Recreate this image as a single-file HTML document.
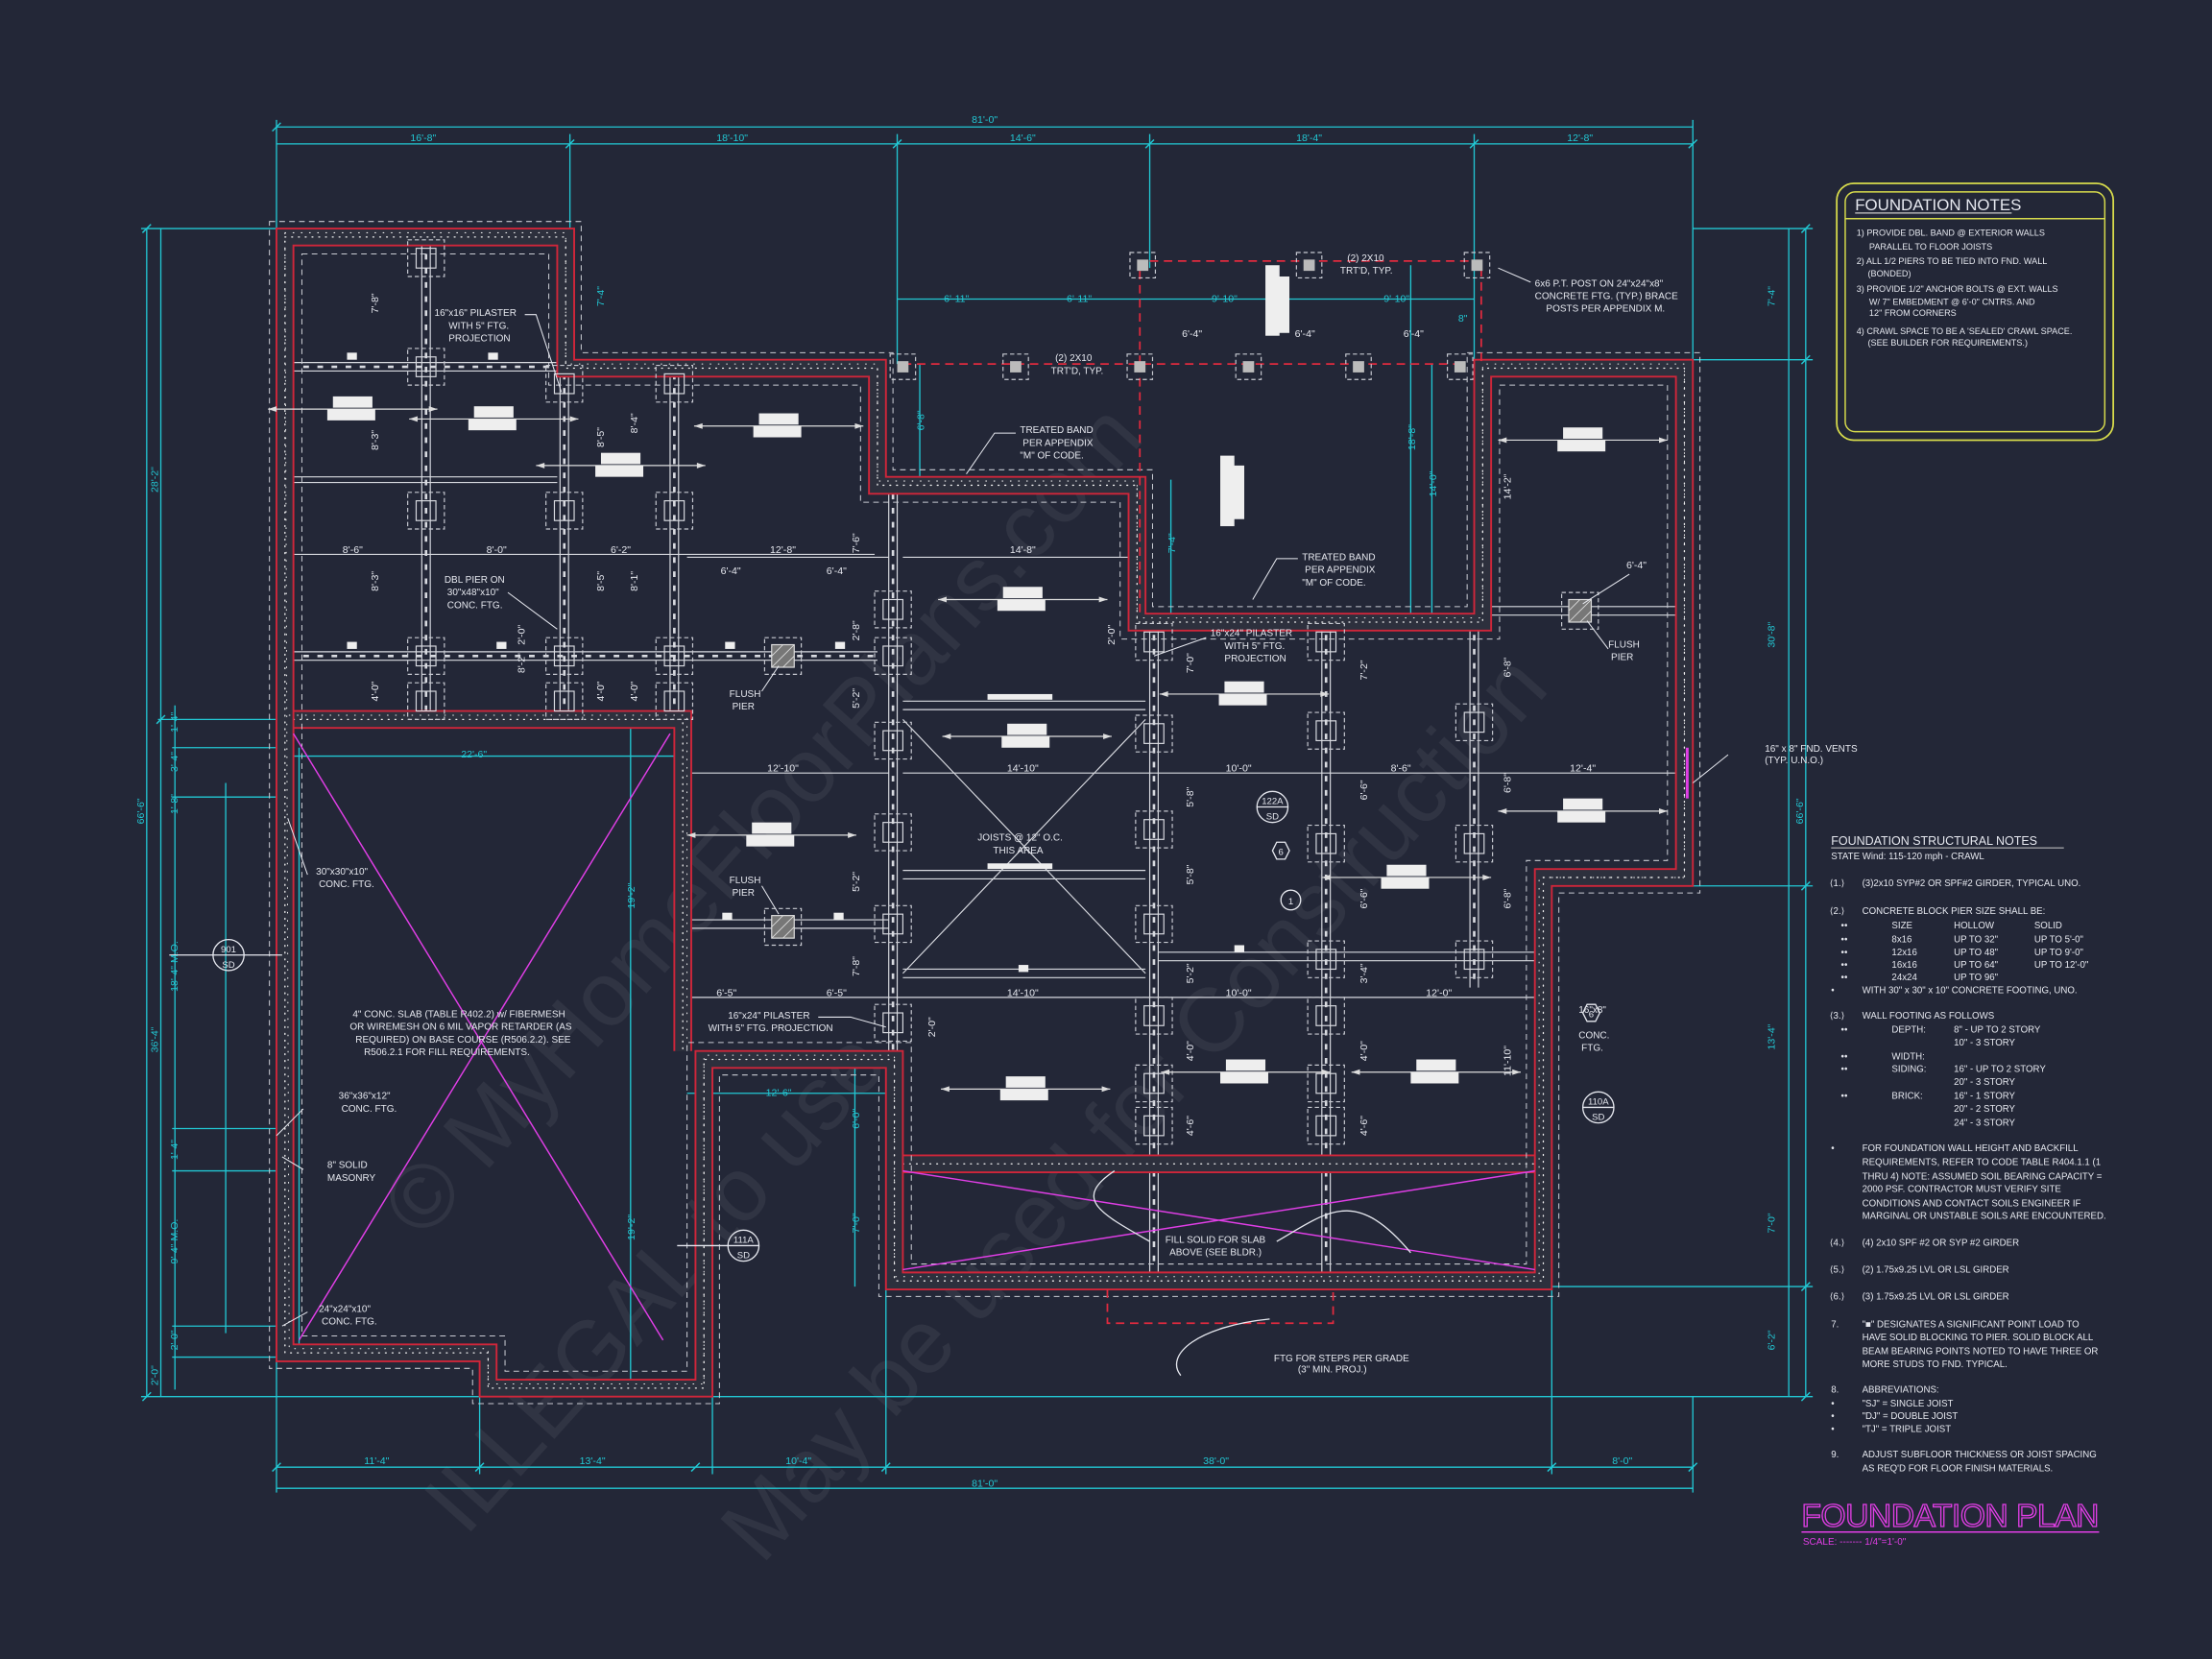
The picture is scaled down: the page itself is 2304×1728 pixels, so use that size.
<!DOCTYPE html>
<html><head><meta charset="utf-8"><style>
html,body{margin:0;padding:0;background:#232737;}
svg{display:block}
text{font-family:"Liberation Sans",sans-serif;fill:#e6e8ef;}
.c{fill:#22c8d4}
.m{fill:#e23ee6}
</style></head><body>
<svg width="2304" height="1728" viewBox="0 0 1568 1176" xmlns="http://www.w3.org/2000/svg">
<defs>
<g id="p"><rect x="-13" y="-13" width="26" height="26" fill="none" stroke="#c8cad2" stroke-width="0.8" stroke-dasharray="3 2"/><rect x="-7" y="-7" width="14" height="14" fill="none" stroke="#d8dae0" stroke-width="0.8"/></g>
<g id="fp"><rect x="-13" y="-13" width="26" height="26" fill="none" stroke="#c8cad2" stroke-width="0.8" stroke-dasharray="3 2"/><rect x="-8" y="-8" width="16" height="16" fill="#777" stroke="#ddd" stroke-width="0.8"/><path d="M-8,0 L0,-8 M-8,8 L8,-8 M0,8 L8,0" stroke="#ddd" stroke-width="0.6"/></g>
<g id="sp"><rect x="-9" y="-9" width="18" height="18" fill="none" stroke="#c8cad2" stroke-width="0.8" stroke-dasharray="3 2"/><rect x="-4" y="-4" width="8" height="8" fill="#bbb"/></g>
<g id="j"><line x1="-60" y1="0" x2="60" y2="0" stroke="#ddd" stroke-width="0.8"/><path d="M-60,0 l6,-2 v4z M60,0 l-6,-2 v4z" fill="#ddd"/><rect x="-14" y="-9" width="28" height="8" fill="#eee"/><rect x="-18" y="0" width="34" height="8" fill="#eee"/></g>
</defs>
<rect width="1568" height="1176" fill="#232737"/>

<!-- watermark -->
<g fill="#ffffff" opacity="0.06" font-family="Liberation Serif" font-size="64">
<text x="300" y="880" transform="rotate(-48 300 880)" style="fill:#fff">© MyHomeFloorPlans.com</text>
<text x="330" y="1090" transform="rotate(-48 330 1090)" style="fill:#fff">ILLEGAL to use</text>
<text x="540" y="1110" transform="rotate(-48 540 1110)" style="fill:#fff">May be used for Construction</text>
</g>

<!-- dimension lines cyan -->
<g stroke="#22c8d4" stroke-width="0.9" fill="none">
<line x1="196" y1="90" x2="1200" y2="90"/>
<line x1="196" y1="102" x2="1200" y2="102"/>
<path d="M196,85V162 M404,95V258 M636,95V258 M815,95V190 M1045,95V258 M1200,85V255"/>
<path d="M100,162H196 M100,990H340 M112,510H196 M122,530H200 M122,565H200 M122,800H200 M122,830H200 M122,940H200 M122,962H200"/>
<line x1="104" y1="162" x2="104" y2="990"/>
<line x1="114" y1="162" x2="114" y2="510"/>
<line x1="114" y1="510" x2="114" y2="990"/>
<line x1="124" y1="500" x2="124" y2="985"/>
<line x1="1280" y1="162" x2="1280" y2="990"/>
<line x1="1268" y1="162" x2="1268" y2="990"/>
<path d="M1200,162H1285 M1200,255H1285 M1200,628H1285 M1100,912H1285 M1100,990H1285 M505,990H1285 M1200,990V1058 M1100,912V1045 M628,912V1045 M505,990V1045 M340,990V1045 M196,965V1058"/>
<line x1="196" y1="1040" x2="1200" y2="1040"/>
<line x1="196" y1="1055" x2="1200" y2="1055"/>
<line x1="636" y1="212" x2="1045" y2="212"/>
<line x1="208" y1="536" x2="480" y2="536"/>
<line x1="487" y1="775" x2="628" y2="775"/>
<path d="M652,258V340 M830,340V435 M1000,188V435 M1015,258V435 M447,510V755 M447,755V985 M606,757V830 M606,830V912 M212,530V965 M160,555V945"/>
</g>
<g stroke="#22c8d4" stroke-width="1">
<path d="M193,93l6,-6 M401,105l6,-6 M633,105l6,-6 M812,105l6,-6 M1042,105l6,-6 M1197,105l6,-6 M193,1043l6,-6 M337,1043l6,-6 M490,1043l6,-6 M625,1043l6,-6 M1097,1043l6,-6 M1197,1043l6,-6 M101,165l6,-6 M101,993l6,-6 M111,513l6,-6 M1277,165l6,-6 M1277,258l6,-6 M1277,631l6,-6 M1277,915l6,-6 M1277,993l6,-6"/>
</g>

<!-- girders / pier lines -->
<g stroke="#d8dae0" stroke-width="0.8" fill="none">
<path d="M208,257H622 M208,263H622 M208,462H622 M208,468H622 M208,338H395 M208,342H395"/>
<path d="M299,174V510 M305,174V510 M397,258V510 M403,258V510 M475,258V510 M481,258V510"/>
<path d="M630,344V830 M636,344V830 M815,441V905 M821,441V905 M937,441V905 M943,441V905 M1042,441V700 M1048,441V700"/>
<path d="M640,497H812 M640,503H812 M640,617H812 M640,623H812 M640,687H812 M640,693H812 M821,675H1088 M821,681H1088 M1057,430H1188 M1057,436H1188 M487,652H630 M487,658H630"/>
<path d="M640,395H800 M487,395H630 M208,393H620 M487,548H630 M640,548H1188 M487,707H1088"/>
<path d="M640,510L812,690 M812,510L640,690"/>
</g>
<g stroke="#d8dae0" stroke-width="1.8" stroke-dasharray="4 6" fill="none">
<path d="M215,260H620 M215,465H620 M302,180V505 M400,265V505 M478,265V505 M633,350V825 M818,450V900 M940,450V900 M1045,450V700"/>
</g>

<!-- walls -->
<path d="M202,168H401V261H622V344H806V441H1051V261H1194V622H1094V908H634V751H499V984H346V959H202Z M208,510H484V745 M640,825H1088" fill="none" stroke="#2d303d" stroke-width="12"/>
<path d="M202,168H401V261H622V344H806V441H1051V261H1194V622H1094V908H634V751H499V984H346V959H202Z M208,510H484V745 M640,825H1088" fill="none" stroke="#f2f2f2" stroke-width="0.9" stroke-dasharray="0.6 4.2" stroke-linecap="round"/>
<path d="M202,165H401V258H622V341H806V438H1051V258H1194V622H1091V905H634V748H499V981H346V956H205Z M205,507H487V745" fill="none" stroke="#f2f2f2" stroke-width="0.7" stroke-dasharray="0.5 5.3" stroke-linecap="round"/>
<g fill="none" stroke="#d0263a" stroke-width="1.3">
<path d="M196,162H407V255H628V338H812V435H1045V255H1200V628H1100V914H628V757H505V990H340V965H196Z"/>
<path d="M208,174H395V267H616V350H800V447H1057V267H1188V616H1088V902H640V745H493V978H352V953H208Z"/>
<path d="M208,504H490V745 M208,516H478V745 M640,819H1088 M640,831H1088"/>
</g>
<g fill="none" stroke="#c8cad2" stroke-width="0.7" stroke-dasharray="4 3">
<path d="M191,157H412V250H633V333H817V430H1040V250H1205V633H1105V919H623V762H510V995H335V970H191Z"/>
<path d="M214,180H389V273H610V356H794V453H1063V273H1182V610H1082V896H646V739H487V972H358V947H214Z"/>
</g>
<g fill="none" stroke="#e02a3e" stroke-width="1.2" stroke-dasharray="6 4">
<path d="M640,258H1040 M808,258V185H1050V258 M808,258V438"/>
<path d="M785,914V938H945V914"/>
</g>

<!-- magenta X -->
<g stroke="#e03ee6" stroke-width="1">
<path d="M208,520L470,950 M475,520L212,950 M640,830L1088,900 M640,900L1088,830"/>
<path d="M1196,530V566" stroke-width="2"/>
</g>

<!-- piers -->
<g>
<use href="#p" x="302" y="183"/><use href="#p" x="302" y="260"/><use href="#p" x="302" y="362"/><use href="#p" x="302" y="465"/><use href="#p" x="302" y="497"/>
<use href="#p" x="400" y="272"/><use href="#p" x="400" y="362"/><use href="#p" x="400" y="465"/><use href="#p" x="400" y="497"/>
<use href="#p" x="478" y="272"/><use href="#p" x="478" y="362"/><use href="#p" x="478" y="465"/><use href="#p" x="478" y="497"/>
<use href="#p" x="633" y="432"/><use href="#p" x="633" y="465"/><use href="#p" x="633" y="525"/><use href="#p" x="633" y="590"/><use href="#p" x="633" y="655"/><use href="#p" x="633" y="725"/>
<use href="#p" x="818" y="455"/><use href="#p" x="818" y="520"/><use href="#p" x="818" y="588"/><use href="#p" x="818" y="655"/><use href="#p" x="818" y="720"/><use href="#p" x="818" y="768"/><use href="#p" x="818" y="798"/>
<use href="#p" x="940" y="455"/><use href="#p" x="940" y="518"/><use href="#p" x="940" y="598"/><use href="#p" x="940" y="680"/><use href="#p" x="940" y="720"/><use href="#p" x="940" y="768"/><use href="#p" x="940" y="798"/>
<use href="#p" x="1045" y="512"/><use href="#p" x="1045" y="598"/><use href="#p" x="1045" y="680"/>
<use href="#fp" x="555" y="465"/><use href="#fp" x="555" y="657"/><use href="#fp" x="1120" y="433"/>
<use href="#sp" x="720" y="260"/><use href="#sp" x="808" y="260"/><use href="#sp" x="885" y="260"/><use href="#sp" x="963" y="260"/><use href="#sp" x="1035" y="260"/>
<use href="#sp" x="810" y="188"/><use href="#sp" x="928" y="188"/><use href="#sp" x="1047" y="188"/><use href="#sp" x="640" y="260"/>
</g>
<!-- small load markers -->
<g fill="#eee">
<rect x="246" y="250" width="7" height="5"/><rect x="346" y="250" width="7" height="5"/><rect x="246" y="455" width="7" height="5"/><rect x="352" y="455" width="7" height="5"/><rect x="514" y="455" width="7" height="5"/><rect x="592" y="455" width="7" height="5"/><rect x="512" y="647" width="7" height="5"/><rect x="591" y="647" width="7" height="5"/><rect x="875" y="670" width="7" height="5"/><rect x="722" y="684" width="7" height="5"/><rect x="700" y="492" width="46" height="4"/><rect x="700" y="612" width="46" height="4"/>
</g>
<!-- joist tags -->
<g>
<use href="#j" x="250" y="290"/><use href="#j" x="350" y="297"/><use href="#j" x="552" y="302"/><use href="#j" x="440" y="330"/><use href="#j" x="725" y="425"/><use href="#j" x="728" y="522"/><use href="#j" x="547" y="592"/><use href="#j" x="727" y="772"/><use href="#j" x="882" y="492"/><use href="#j" x="883" y="760"/><use href="#j" x="997" y="622"/><use href="#j" x="1018" y="760"/><use href="#j" x="1122" y="312"/><use href="#j" x="1122" y="575"/>
</g>
<g fill="#eee"><rect x="897" y="188" width="10" height="50"/><rect x="906" y="196" width="8" height="40"/><rect x="865" y="323" width="10" height="50"/><rect x="874" y="330" width="8" height="38"/></g>

<!-- tags -->
<g fill="none" stroke="#e6e8ef" stroke-width="0.9">
<circle cx="162" cy="677" r="11"/><line x1="151" y1="677" x2="173" y2="677"/>
<circle cx="902" cy="572" r="11"/><line x1="891" y1="572" x2="913" y2="572"/>
<circle cx="1133" cy="785" r="11"/><line x1="1122" y1="785" x2="1144" y2="785"/>
<circle cx="527" cy="883" r="11"/><line x1="516" y1="883" x2="538" y2="883"/>
<circle cx="915" cy="638" r="7"/>
<path d="M902,603l3,-6h6l3,6l-3,6h-6z M1122,718l3,-6h6l3,6l-3,6h-6z"/>
<path d="M120,677H151 M173,677H200 M480,883H516"/>
<path d="M837,975 C825,960 850,940 900,935" />
<path d="M815,880 C780,860 760,850 790,830 M905,880 C940,860 960,840 1000,888"/>
</g>
<g font-size="6.5" text-anchor="middle">
<text x="162" y="675">901</text><text x="162" y="686">SD</text>
<text x="902" y="570">122A</text><text x="902" y="581">SD</text>
<text x="1133" y="783">110A</text><text x="1133" y="794">SD</text>
<text x="527" y="881">111A</text><text x="527" y="892">SD</text>
<text x="908" y="606">6</text><text x="915" y="641">1</text><text x="1128" y="721">6</text>
</g>

<!-- leader lines -->
<g stroke="#e6e8ef" stroke-width="0.7" fill="none">
<path d="M372,223H380L398,278 M685,336L705,307H720 M888,425L905,396H920 M1085,200L1062,190 M1155,407L1122,428 M1140,460L1125,440 M540,490L552,472 M540,628L552,648 M580,721H603L628,728 M1200,555L1225,535 M218,620L204,580 M215,786L196,805 M215,829L200,820 M218,930L200,940 M360,420L395,446 M855,452L818,465"/>
</g>

<!-- labels white -->
<g font-size="6.8">
<text x="308" y="224">16"x16" PILASTER</text><text x="318" y="233">WITH 5" FTG.</text><text x="318" y="242">PROJECTION</text>
<text x="748" y="256">(2) 2X10</text><text x="745" y="265">TRT'D, TYP.</text>
<text x="955" y="185">(2) 2X10</text><text x="950" y="194">TRT'D, TYP.</text>
<text x="1088" y="203">6x6 P.T. POST ON 24"x24"x8"</text><text x="1088" y="212">CONCRETE FTG. (TYP.) BRACE</text><text x="1096" y="221">POSTS PER APPENDIX M.</text>
<text x="723" y="307">TREATED BAND</text><text x="725" y="316">PER APPENDIX</text><text x="723" y="325">"M" OF CODE.</text>
<text x="923" y="397">TREATED BAND</text><text x="925" y="406">PER APPENDIX</text><text x="923" y="415">"M" OF CODE.</text>
<text x="315" y="413">DBL PIER ON</text><text x="317" y="422">30"x48"x10"</text><text x="317" y="431">CONC. FTG.</text>
<text x="858" y="451">16"x24" PILASTER</text><text x="868" y="460">WITH 5" FTG.</text><text x="868" y="469">PROJECTION</text>
<text x="1140" y="459">FLUSH</text><text x="1142" y="468">PIER</text>
<text x="517" y="494">FLUSH</text><text x="519" y="503">PIER</text>
<text x="517" y="626">FLUSH</text><text x="519" y="635">PIER</text>
<text x="693" y="596">JOISTS @ 12" O.C.</text><text x="704" y="605">THIS AREA</text>
<text x="516" y="722">16"x24" PILASTER</text><text x="502" y="731">WITH 5" FTG. PROJECTION</text>
<text x="1251" y="533">16" x 8" FND. VENTS</text><text x="1251" y="541">(TYP. U.N.O.)</text>
<text x="224" y="620">30"x30"x10"</text><text x="226" y="629">CONC. FTG.</text>
<text x="240" y="779">36"x36"x12"</text><text x="242" y="788">CONC. FTG.</text>
<text x="232" y="828">8" SOLID</text><text x="232" y="837">MASONRY</text>
<text x="226" y="930">24"x24"x10"</text><text x="228" y="939">CONC. FTG.</text>
<text x="250" y="721">4" CONC. SLAB (TABLE R402.2) w/ FIBERMESH</text><text x="248" y="730">OR WIREMESH ON 6 MIL VAPOR RETARDER (AS</text><text x="252" y="739">REQUIRED) ON BASE COURSE (R506.2.2). SEE</text><text x="258" y="748">R506.2.1 FOR FILL REQUIREMENTS.</text>
<text x="1119" y="718">16"x8"</text><text x="1119" y="736">CONC.</text><text x="1121" y="745">FTG.</text>
<text x="826" y="881">FILL SOLID FOR SLAB</text><text x="829" y="890">ABOVE (SEE BLDR.)</text>
<text x="903" y="965">FTG FOR STEPS PER GRADE</text><text x="920" y="973">(3" MIN. PROJ.)</text>
</g>

<!-- dimension texts -->
<g font-size="7.2" text-anchor="middle">
<g class="c" style="fill:#22c8d4">
<text x="698" y="87" style="fill:#22c8d4">81'-0"</text>
<text x="300" y="100" style="fill:#22c8d4">16'-8"</text><text x="519" y="100" style="fill:#22c8d4">18'-10"</text><text x="725" y="100" style="fill:#22c8d4">14'-6"</text><text x="928" y="100" style="fill:#22c8d4">18'-4"</text><text x="1120" y="100" style="fill:#22c8d4">12'-8"</text>
<text x="267" y="1038" style="fill:#22c8d4">11'-4"</text><text x="420" y="1038" style="fill:#22c8d4">13'-4"</text><text x="566" y="1038" style="fill:#22c8d4">10'-4"</text><text x="862" y="1038" style="fill:#22c8d4">38'-0"</text><text x="1150" y="1038" style="fill:#22c8d4">8'-0"</text>
<text x="698" y="1054" style="fill:#22c8d4">81'-0"</text>
<text x="678" y="214" style="fill:#22c8d4">6'-11"</text><text x="765" y="214" style="fill:#22c8d4">6'-11"</text><text x="868" y="214" style="fill:#22c8d4">9'-10"</text><text x="990" y="214" style="fill:#22c8d4">9'-10"</text><text x="1037" y="228" style="fill:#22c8d4">8"</text>
<text x="336" y="537" style="fill:#22c8d4">22'-6"</text><text x="552" y="777" style="fill:#22c8d4">12'-6"</text>
</g>
<text x="845" y="239">6'-4"</text><text x="925" y="239">6'-4"</text><text x="1002" y="239">6'-4"</text>
<text x="250" y="392">8'-6"</text><text x="352" y="392">8'-0"</text><text x="440" y="392">6'-2"</text><text x="555" y="392">12'-8"</text><text x="725" y="392">14'-8"</text>
<text x="518" y="407">6'-4"</text><text x="593" y="407">6'-4"</text><text x="1160" y="403">6'-4"</text>
<text x="555" y="547">12'-10"</text><text x="725" y="547">14'-10"</text><text x="878" y="547">10'-0"</text><text x="993" y="547">8'-6"</text><text x="1122" y="547">12'-4"</text>
<text x="515" y="706">6'-5"</text><text x="593" y="706">6'-5"</text><text x="725" y="706">14'-10"</text><text x="878" y="706">10'-0"</text><text x="1020" y="706">12'-0"</text>
</g>
<g font-size="7.2" text-anchor="middle">
<g transform="rotate(-90)">
<text x="-215" y="268">7'-8"</text><text x="-312" y="268">8'-3"</text><text x="-412" y="268">8'-3"</text><text x="-490" y="268">4'-0"</text>
<text x="-310" y="428">8'-5"</text><text x="-412" y="428">8'-5"</text><text x="-490" y="428">4'-0"</text>
<text x="-300" y="452">8'-4"</text><text x="-412" y="452">8'-1"</text><text x="-490" y="452">4'-0"</text>
<text x="-470" y="372">8'-2"</text><text x="-450" y="372">2'-0"</text>
<text x="-385" y="609">7'-6"</text><text x="-447" y="609">2'-8"</text><text x="-495" y="609">5'-2"</text><text x="-625" y="609">5'-2"</text><text x="-685" y="609">7'-8"</text>
<text x="-450" y="790">2'-0"</text>
<text x="-470" y="846">7'-0"</text><text x="-565" y="846">5'-8"</text><text x="-620" y="846">5'-8"</text><text x="-690" y="846">5'-2"</text><text x="-745" y="846">4'-0"</text><text x="-798" y="846">4'-6"</text>
<text x="-475" y="969">7'-2"</text><text x="-560" y="969">6'-6"</text><text x="-637" y="969">6'-6"</text><text x="-690" y="969">3'-4"</text><text x="-745" y="969">4'-0"</text><text x="-798" y="969">4'-6"</text>
<text x="-345" y="1071">14'-2"</text><text x="-473" y="1071">6'-8"</text><text x="-555" y="1071">6'-8"</text><text x="-637" y="1071">6'-8"</text><text x="-752" y="1071">11'-10"</text>
<text x="-728" y="663">2'-0"</text>
<g style="fill:#22c8d4">
<text x="-298" y="655" style="fill:#22c8d4">6'-8"</text><text x="-385" y="833" style="fill:#22c8d4">7'-4"</text><text x="-310" y="1003" style="fill:#22c8d4">18'-8"</text><text x="-343" y="1018" style="fill:#22c8d4">14'-0"</text>
<text x="-210" y="428" style="fill:#22c8d4">7'-4"</text>
<text x="-635" y="450" style="fill:#22c8d4">19'-2"</text><text x="-870" y="450" style="fill:#22c8d4">19'-2"</text>
<text x="-793" y="609" style="fill:#22c8d4">6'-0"</text><text x="-867" y="609" style="fill:#22c8d4">7'-0"</text>
<text x="-575" y="102" style="fill:#22c8d4">66'-6"</text><text x="-340" y="112" style="fill:#22c8d4">28'-2"</text><text x="-737" y="112" style="fill:#22c8d4">36'-4"</text>
<text x="-975" y="112" style="fill:#22c8d4">2'-0"</text>
<text x="-512" y="126" style="fill:#22c8d4">1'-4"</text><text x="-540" y="126" style="fill:#22c8d4">3'-4"</text><text x="-570" y="126" style="fill:#22c8d4">1'-8"</text><text x="-685" y="126" style="fill:#22c8d4">18'-4" M.O.</text><text x="-815" y="126" style="fill:#22c8d4">1'-4"</text><text x="-880" y="126" style="fill:#22c8d4">9'-4" M.O.</text><text x="-950" y="126" style="fill:#22c8d4">2'-0"</text>
<text x="-210" y="1258" style="fill:#22c8d4">7'-4"</text><text x="-450" y="1258" style="fill:#22c8d4">30'-8"</text><text x="-735" y="1258" style="fill:#22c8d4">13'-4"</text><text x="-867" y="1258" style="fill:#22c8d4">7'-0"</text><text x="-950" y="1258" style="fill:#22c8d4">6'-2"</text><text x="-575" y="1278" style="fill:#22c8d4">66'-6"</text>
</g>
</g>
</g>

<!-- Foundation notes box -->
<rect x="1302" y="130" width="196" height="182" rx="12" fill="none" stroke="#d8dc4c" stroke-width="1.2"/>
<rect x="1308" y="136" width="184" height="170" rx="7" fill="none" stroke="#d8dc4c" stroke-width="1"/>
<line x1="1308" y1="155" x2="1492" y2="155" stroke="#d8dc4c" stroke-width="1"/>
<text x="1315" y="149" font-size="11.5">FOUNDATION NOTES</text>
<line x1="1315" y1="151" x2="1426" y2="151" stroke="#ccc" stroke-width="0.8"/>
<g font-size="6.2">
<text x="1316" y="167">1) PROVIDE DBL. BAND @ EXTERIOR WALLS</text>
<text x="1325" y="177">PARALLEL TO FLOOR JOISTS</text>
<text x="1316" y="187">2) ALL 1/2 PIERS TO BE TIED INTO FND. WALL</text>
<text x="1324" y="196">(BONDED)</text>
<text x="1316" y="207">3) PROVIDE 1/2" ANCHOR BOLTS @ EXT. WALLS</text>
<text x="1325" y="216">W/ 7" EMBEDMENT @ 6'-0" CNTRS. AND</text>
<text x="1325" y="224">12" FROM CORNERS</text>
<text x="1316" y="237">4) CRAWL SPACE TO BE A 'SEALED' CRAWL SPACE.</text>
<text x="1324" y="245">(SEE BUILDER FOR REQUIREMENTS.)</text>
</g>

<!-- Structural notes -->
<g font-size="6.6">
<text x="1298" y="599" font-size="8.5">FOUNDATION STRUCTURAL NOTES</text>
<line x1="1298" y1="601" x2="1463" y2="601" stroke="#ccc" stroke-width="0.7"/>
<text x="1298" y="609">STATE Wind: 115-120 mph - CRAWL</text>
<text x="1297" y="628">⟨1.⟩</text><text x="1320" y="628">(3)2x10 SYP#2 OR SPF#2 GIRDER, TYPICAL UNO.</text>
<text x="1297" y="648">⟨2.⟩</text><text x="1320" y="648">CONCRETE BLOCK PIER SIZE SHALL BE:</text>
<text x="1305" y="658">••</text><text x="1341" y="658">SIZE</text><text x="1385" y="658">HOLLOW</text><text x="1442" y="658">SOLID</text>
<text x="1305" y="668">••</text><text x="1341" y="668">8x16</text><text x="1385" y="668">UP TO 32"</text><text x="1442" y="668">UP TO 5'-0"</text>
<text x="1305" y="677">••</text><text x="1341" y="677">12x16</text><text x="1385" y="677">UP TO 48"</text><text x="1442" y="677">UP TO 9'-0"</text>
<text x="1305" y="686">••</text><text x="1341" y="686">16x16</text><text x="1385" y="686">UP TO 64"</text><text x="1442" y="686">UP TO 12'-0"</text>
<text x="1305" y="695">••</text><text x="1341" y="695">24x24</text><text x="1385" y="695">UP TO 96"</text>
<text x="1298" y="704">•</text><text x="1320" y="704">WITH 30" x 30" x 10" CONCRETE FOOTING, UNO.</text>
<text x="1297" y="722">⟨3.⟩</text><text x="1320" y="722">WALL FOOTING AS FOLLOWS</text>
<text x="1305" y="732">••</text><text x="1341" y="732">DEPTH:</text><text x="1385" y="732">8" - UP TO 2 STORY</text>
<text x="1385" y="741">10" - 3 STORY</text>
<text x="1305" y="751">••</text><text x="1341" y="751">WIDTH:</text>
<text x="1305" y="760">••</text><text x="1341" y="760">SIDING:</text><text x="1385" y="760">16" - UP TO 2 STORY</text>
<text x="1385" y="769">20" - 3 STORY</text>
<text x="1305" y="779">••</text><text x="1341" y="779">BRICK:</text><text x="1385" y="779">16" - 1 STORY</text>
<text x="1385" y="788">20" - 2 STORY</text>
<text x="1385" y="798">24" - 3 STORY</text>
<text x="1298" y="816">•</text><text x="1320" y="816">FOR FOUNDATION WALL HEIGHT AND BACKFILL</text>
<text x="1320" y="826">REQUIREMENTS, REFER TO CODE TABLE R404.1.1 (1</text>
<text x="1320" y="836">THRU 4) NOTE: ASSUMED SOIL BEARING CAPACITY =</text>
<text x="1320" y="845">2000 PSF. CONTRACTOR MUST VERIFY SITE</text>
<text x="1320" y="855">CONDITIONS AND CONTACT SOILS ENGINEER IF</text>
<text x="1320" y="864">MARGINAL OR UNSTABLE SOILS ARE ENCOUNTERED.</text>
<text x="1297" y="883">⟨4.⟩</text><text x="1320" y="883">(4) 2x10 SPF #2 OR SYP #2 GIRDER</text>
<text x="1297" y="902">⟨5.⟩</text><text x="1320" y="902">(2) 1.75x9.25 LVL OR LSL GIRDER</text>
<text x="1297" y="921">⟨6.⟩</text><text x="1320" y="921">(3) 1.75x9.25 LVL OR LSL GIRDER</text>
<text x="1298" y="941">7.</text><text x="1320" y="941">"■" DESIGNATES A SIGNIFICANT POINT LOAD TO</text>
<text x="1320" y="950">HAVE SOLID BLOCKING TO  PIER. SOLID BLOCK ALL</text>
<text x="1320" y="960">BEAM BEARING POINTS NOTED TO HAVE THREE OR</text>
<text x="1320" y="969">MORE STUDS TO FND. TYPICAL.</text>
<text x="1298" y="987">8.</text><text x="1320" y="987">ABBREVIATIONS:</text>
<text x="1298" y="997">•</text><text x="1320" y="997">"SJ" = SINGLE JOIST</text>
<text x="1298" y="1006">•</text><text x="1320" y="1006">"DJ" = DOUBLE JOIST</text>
<text x="1298" y="1015">•</text><text x="1320" y="1015">"TJ" = TRIPLE JOIST</text>
<text x="1298" y="1033">9.</text><text x="1320" y="1033">ADJUST SUBFLOOR THICKNESS OR JOIST SPACING</text>
<text x="1320" y="1043">AS REQ'D FOR FLOOR FINISH MATERIALS.</text>
</g>

<!-- title -->
<text x="1277" y="1082" font-size="23" style="fill:none;stroke:#e23ee6;stroke-width:0.9" textLength="211">FOUNDATION PLAN</text>
<line x1="1277" y1="1086" x2="1488" y2="1086" stroke="#e23ee6" stroke-width="1"/>
<text x="1278" y="1095" font-size="6.8" style="fill:#e23ee6">SCALE: ------- 1/4"=1'-0"</text>
</svg>
</body></html>
